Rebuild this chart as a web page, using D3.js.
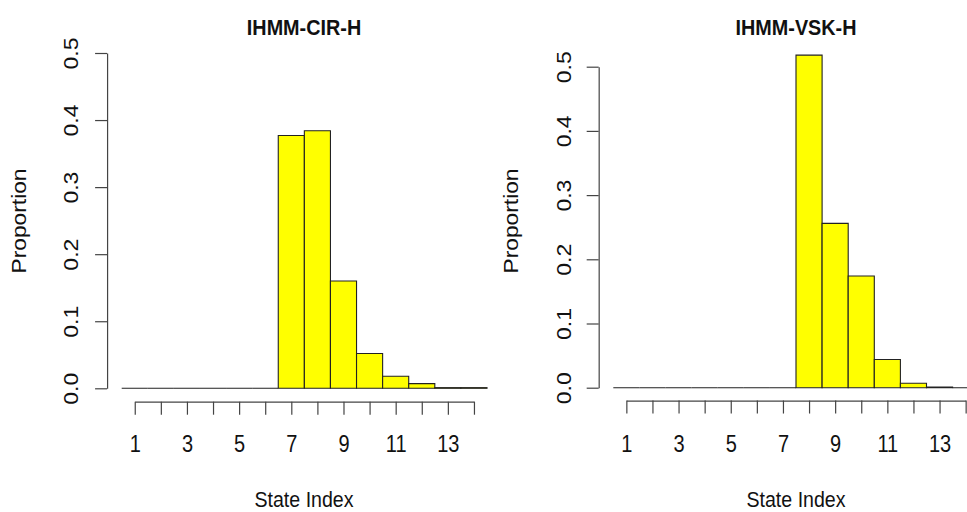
<!DOCTYPE html>
<html>
<head>
<meta charset="utf-8">
<script src="https://cdn.jsdelivr.net/npm/d3@7"></script>
<style>
  html, body { margin: 0; padding: 0; background: #fff; }
  svg { display: block; }
  text { font-family: "Liberation Sans", Arial, Helvetica, sans-serif; fill: #111; }
</style>
</head>
<body>
<svg id="chart" width="967" height="512"></svg>
<script>
// ---- data ----
const states = [1, 2, 3, 4, 5, 6, 7, 8, 9, 10, 11, 12, 13, 14];
const cirValues = [0, 0, 0, 0, 0, 0, 0.377, 0.384, 0.160, 0.052, 0.018, 0.007, 0.001, 0.001];
const vskValues = [0, 0, 0, 0, 0, 0, 0, 0.518, 0.256, 0.174, 0.044, 0.007, 0.001, 0];
const yTickValues = [0, 0.1, 0.2, 0.3, 0.4, 0.5];
const xTickLabels = [1, 3, 5, 7, 9, 11, 13];
const titles = ["IHMM-CIR-H", "IHMM-VSK-H"];
const xLabel = "State Index";
const yLabel = "Proportion";

// ---- layout (positions only) ----
const panels = [
  { title: titles[0], values: cirValues, yMax: 0.5,
    barLeft: 121.7, barRight: 487.0, y0: 388.3, yTop: 53.0,
    titleX: 304, ylabX: 26, tickLabOff: -29 },
  { title: titles[1], values: vskValues, yMax: 0.5,
    barLeft: 613.3, barRight: 978.7, y0: 387.7, yTop: 66.7,
    titleX: 796, ylabX: 518, tickLabOff: -28 }
];

const svg = d3.select("#chart");
const VS = 1.15; // vertical stretch of text seen in reference

panels.forEach(p => {
  const g = svg.append("g");
  const n = states.length;
  const x = d3.scaleLinear().domain([0, n]).range([p.barLeft, p.barRight]);
  const y = d3.scaleLinear().domain([0, p.yMax]).range([p.y0, p.yTop]);
  const plotLeft = x(-0.04 * n);
  const plotBottom = y(-0.04 * p.yMax);

  // bars (paths so zero-height bars still show their border as a line)
  g.selectAll("path.bar").data(p.values).join("path")
    .attr("class", "bar")
    .attr("d", (d, i) => {
      const x0 = x(i), x1 = x(i + 1), yb = y(0), yt = y(d);
      return `M${x0},${yb}H${x1}V${yt}H${x0}Z`;
    })
    .attr("fill", "#ffff00")
    .attr("stroke", "#222")
    .attr("stroke-width", 1.1);

  // y axis
  const yAxis = d3.axisLeft(y).tickValues(yTickValues).tickSize(12).tickSizeOuter(0)
    .tickFormat(d3.format(".1f"));
  const ya = g.append("g").attr("transform", `translate(${plotLeft},0)`).call(yAxis);
  ya.selectAll("path, line").attr("stroke", "#444").attr("stroke-width", 1.2);
  ya.selectAll("text")
    .attr("x", null).attr("dy", null)
    .attr("text-anchor", "middle")
    .attr("font-size", 20)
    .attr("fill", "#111")
    .attr("font-family", "Liberation Sans, Arial, sans-serif")
    .attr("transform", `translate(${p.tickLabOff},0) rotate(-90) scale(${VS},1)`);

  // x axis: ticks at bar centres
  const xa = d3.scaleLinear().domain([1, n]).range([x(0.5), x(n - 0.5)]);
  const xAxis = d3.axisBottom(xa).tickValues(states).tickSize(13).tickSizeOuter(0)
    .tickFormat(d => xTickLabels.includes(d) ? String(d) : "");
  const xg = g.append("g").attr("transform", `translate(0,${plotBottom})`).call(xAxis);
  xg.selectAll("path, line").attr("stroke", "#444").attr("stroke-width", 1.2);
  xg.selectAll("text")
    .attr("y", null).attr("dy", null)
    .attr("text-anchor", "middle")
    .attr("font-size", 20)
    .attr("fill", "#111")
    .attr("font-family", "Liberation Sans, Arial, sans-serif")
    .attr("transform", `translate(0,${452 - plotBottom}) scale(1,${VS})`);

  // title
  g.append("text")
    .attr("text-anchor", "middle")
    .attr("font-size", 19.8)
    .attr("font-weight", "bold")
    .attr("transform", `translate(${p.titleX},35) scale(1,${VS})`)
    .text(p.title);

  // x label
  g.append("text")
    .attr("text-anchor", "middle")
    .attr("font-size", 19.6)
    .attr("transform", `translate(${p.titleX},507) scale(1,${VS})`)
    .text(xLabel);

  // y label
  g.append("text")
    .attr("text-anchor", "middle")
    .attr("font-size", 19.8)
    .attr("transform", `translate(${p.ylabX},221) rotate(-90) scale(${VS},1)`)
    .text(yLabel);
});
</script>
</body>
</html>
